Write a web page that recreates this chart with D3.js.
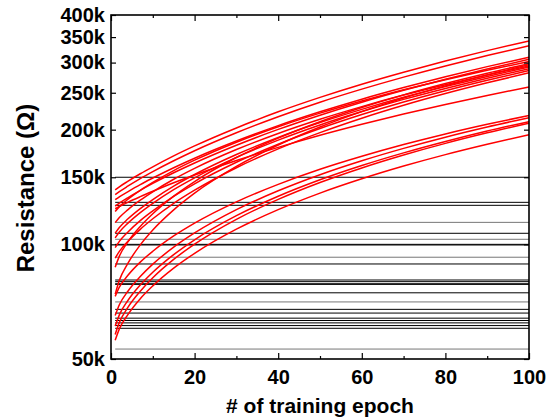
<!DOCTYPE html>
<html>
<head>
<meta charset="utf-8">
<script src="https://cdn.jsdelivr.net/npm/d3@7"></script>
<style>
  html, body { margin: 0; padding: 0; background: #fff; }
  svg { display: block; }
  text { font-family: "Liberation Sans", Arial, sans-serif; font-weight: bold; fill: #000; }
</style>
</head>
<body>
<svg id="chart" width="547" height="418"></svg>
<script>
// ---------- data ----------
const epochs = [1, 2, 4, 7, 10, 15, 20, 30, 40, 50, 60, 70, 80, 90, 100];

// resistance in kOhm of each trained device (red curves)
const trainedU1  = [139, 141.6, 146.3, 153.2, 159.8, 170.7, 181.3, 202.1, 222.8, 243.1, 263.2, 283.0, 302.8, 322.5, 342];
const trainedU2  = [135, 137.5, 142.1, 148.8, 155.2, 165.7, 176.1, 196.3, 216.3, 236.1, 255.5, 274.8, 294.0, 313.1, 332];
const trainedU3  = [131, 133.3, 137.4, 143.5, 149.3, 158.9, 168.3, 186.7, 204.9, 222.8, 240.5, 258.0, 275.5, 292.8, 310];
const trainedU4  = [126, 128.3, 132.5, 138.6, 144.5, 154.1, 163.5, 182.0, 200.3, 218.3, 236.1, 253.7, 271.3, 288.7, 306];
const trainedU5  = [122, 125.6, 131.2, 138.6, 145.4, 156.2, 166.3, 185.4, 203.5, 221.0, 237.9, 254.5, 270.5, 286.3, 302];
const trainedU6  = [114, 117.6, 123.2, 130.6, 137.4, 148.2, 158.3, 177.4, 195.5, 213.0, 229.9, 246.5, 262.5, 278.3, 294];
const trainedU7  = [107, 110.7, 116.5, 124.1, 131.1, 142.2, 152.5, 172.1, 190.8, 208.8, 226.1, 243.2, 259.6, 275.9, 292];
const trainedU8  = [104, 107.7, 113.5, 121.1, 128.1, 139.2, 149.5, 169.1, 187.8, 205.8, 223.1, 240.2, 256.6, 272.9, 289];
const trainedU9  = [98, 101.8, 107.6, 115.4, 122.4, 133.7, 144.2, 164.2, 183.2, 201.4, 219.1, 236.4, 253.1, 269.6, 286];
const trainedU10 = [92, 95.8, 101.7, 109.5, 116.7, 128.1, 138.7, 158.9, 178.1, 196.5, 214.4, 231.8, 248.8, 265.5, 282];
const trainedU11 = [87, 93.1, 101.3, 111.4, 120.3, 133.8, 146.2, 169.0, 190.0, 209.8, 228.6, 246.8, 264.3, 281.4, 298];
const trainedU12 = [74, 80.5, 89.0, 99.7, 109.1, 123.2, 136.3, 160.2, 182.3, 203.2, 223.0, 242.1, 260.6, 278.5, 296];
const trainedU13 = [124, 125.7, 128.9, 133.4, 137.8, 145.1, 152.1, 166.0, 179.7, 193.3, 206.6, 219.8, 233.0, 246.0, 259];
const trainedL1  = [73, 77.2, 82.8, 89.8, 95.9, 105.2, 113.7, 129.3, 143.7, 157.4, 170.3, 182.8, 194.9, 206.6, 218];
const trainedL2  = [65, 69.4, 75.2, 82.3, 88.7, 98.3, 107.1, 123.3, 138.2, 152.3, 165.7, 178.6, 191.1, 203.2, 215];
const trainedL3  = [61, 65.3, 71.1, 78.2, 84.5, 94.0, 102.8, 118.9, 133.7, 147.7, 161.0, 173.8, 186.2, 198.3, 210];
const trainedL4  = [58, 62.4, 68.2, 75.3, 81.7, 91.3, 100.1, 116.3, 131.2, 145.3, 158.7, 171.6, 184.1, 196.2, 208];
const trainedL5  = [56, 60.0, 65.3, 72.0, 77.8, 86.6, 94.7, 109.6, 123.3, 136.3, 148.6, 160.5, 172.0, 183.1, 194];

const trainedSeries = [trainedU1, trainedU2, trainedU3, trainedU4, trainedU5, trainedU6, trainedU7,
  trainedU8, trainedU9, trainedU10, trainedU11, trainedU12, trainedU13,
  trainedL1, trainedL2, trainedL3, trainedL4, trainedL5];

// resistance in kOhm of untrained devices (flat lines)
const untrainedLevels = [150.0, 128.9, 126.6, 106.9, 100.0, 99.6, 88.8, 80.6, 79.8, 78.8, 78.5,
  74.6, 67.5, 66.0, 64.0, 63.1, 62.2, 61.2, 60.2];
const untrainedLevelsFaint = [114.2, 103.1, 92.5, 70.6, 53.1];

const xTicks = [0, 20, 40, 60, 80, 100];
const xMinorTicks = [10, 30, 50, 70, 90];
const yTicks = [50, 100, 150, 200, 250, 300, 350, 400];
const yTickLabels = ["50k", "100k", "150k", "200k", "250k", "300k", "350k", "400k"];

// ---------- chart ----------
const svg = d3.select("#chart");
const L = 111, R = 529, T = 15, B = 359;

const x = d3.scaleLinear().domain([0, 100]).range([L, R]);
const y = d3.scaleLog().domain([50, 400]).range([B, T]);

const plot = svg.append("g");

plot.selectAll("line.faint").data(untrainedLevelsFaint).join("line")
  .attr("x1", x(1)).attr("x2", x(100))
  .attr("y1", d => y(d)).attr("y2", d => y(d))
  .attr("stroke", "#777").attr("stroke-width", 1);
plot.selectAll("line.flat").data(untrainedLevels).join("line")
  .attr("x1", x(1)).attr("x2", x(100))
  .attr("y1", d => y(d)).attr("y2", d => y(d))
  .attr("stroke", "#000").attr("stroke-width", 1);

const line = d3.line()
  .x((d, i) => x(epochs[i]))
  .y(d => y(d))
  .curve(d3.curveMonotoneX);
plot.selectAll("path.red").data(trainedSeries).join("path")
  .attr("d", line)
  .attr("fill", "none")
  .attr("stroke", "#ff0000")
  .attr("stroke-width", 1.5);

// axes
const axB = d3.axisBottom(x).tickValues(xTicks).tickSize(-6).tickPadding(11).tickFormat(d3.format("d"));
svg.append("g").attr("transform", `translate(0,${B})`).call(axB);
const axBm = d3.axisBottom(x).tickValues(xMinorTicks).tickSize(-3).tickFormat("");
svg.append("g").attr("transform", `translate(0,${B})`).call(axBm);
const axT = d3.axisTop(x).tickValues(xTicks).tickSize(-6).tickFormat("");
svg.append("g").attr("transform", `translate(0,${T})`).call(axT);
const axTm = d3.axisTop(x).tickValues(xMinorTicks).tickSize(-3).tickFormat("");
svg.append("g").attr("transform", `translate(0,${T})`).call(axTm);

const axL = d3.axisLeft(y).tickValues(yTicks).tickSize(-5).tickPadding(6)
  .tickFormat((d, i) => yTickLabels[i]);
svg.append("g").attr("transform", `translate(${L},0)`).call(axL);
const axR = d3.axisRight(y).tickValues(yTicks).tickSize(-5).tickFormat("");
svg.append("g").attr("transform", `translate(${R},0)`).call(axR);

svg.selectAll(".domain").remove();
svg.selectAll(".tick line").attr("stroke", "#000").attr("stroke-width", 1.2);
svg.selectAll(".tick text").attr("font-size", 20).attr("font-family", "Liberation Sans, Arial, sans-serif").attr("font-weight", "bold");

svg.append("rect").attr("x", L).attr("y", T).attr("width", R - L).attr("height", B - T)
  .attr("fill", "none").attr("stroke", "#000").attr("stroke-width", 1.6);

svg.append("text").attr("x", (L + R) / 2).attr("y", 413).attr("text-anchor", "middle")
  .attr("font-size", 21).text("# of training epoch");
svg.append("text").attr("transform", `translate(34,188) rotate(-90)`).attr("text-anchor", "middle")
  .attr("font-size", 24).text("Resistance (Ω)");
</script>
</body>
</html>
